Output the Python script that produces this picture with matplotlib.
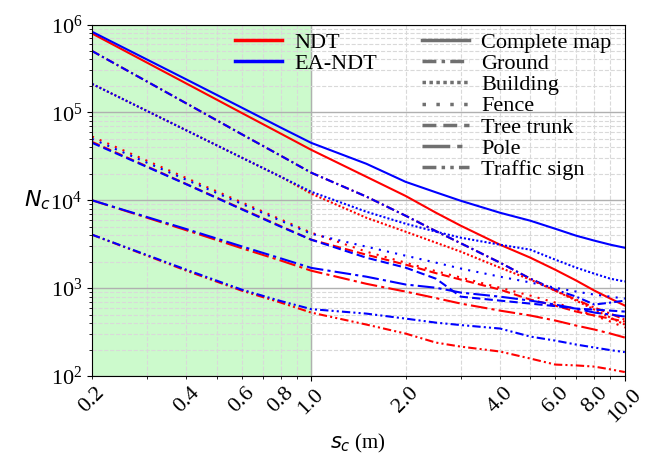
import matplotlib
matplotlib.use("Agg")
import matplotlib.pyplot as plt
import numpy as np
from matplotlib.lines import Line2D
from matplotlib.ticker import LogLocator, FuncFormatter

plt.rcParams['font.family'] = 'Liberation Serif'
plt.rcParams['mathtext.fontset'] = 'custom'
plt.rcParams['mathtext.rm'] = 'Liberation Serif'
plt.rcParams['mathtext.it'] = 'DejaVu Sans:italic'
plt.rcParams['mathtext.default'] = 'regular'

# cell size (m)
s = [0.2, 0.4, 0.6, 0.8, 1.0, 1.5, 2.0, 2.5, 3.0, 4.0, 5.0, 6.0, 7.0, 8.0, 9.0, 10.0]

# number of cells, NDT (red) / EA-NDT (blue)
complete_ndt = [7.91e5, 2.13e5, 9.87e4, 5.73e4, 3.75e4, 1.85e4, 1.12e4, 7.21e3, 5.13e3, 3.12e3, 2.22e3, 1.62e3, 1.22e3, 937, 760, 633]
complete_ea = [8.28e5, 2.37e5, 1.135e5, 6.71e4, 4.50e4, 2.60e4, 1.62e4, 1.23e4, 9.86e3, 7.21e3, 5.85e3, 4.74e3, 3.95e3, 3.47e3, 3.12e3, 2.88e3]
ground_ndt = [5.0e5, 1.265e5, 5.65e4, 3.21e4, 2.06e4, 1.10e4, 6.67e3, 4.45e3, 3.24e3, 1.95e3, 1.28e3, 937, 740, 600, 513, 438]
ground_ea = [5.0e5, 1.265e5, 5.65e4, 3.21e4, 2.06e4, 1.10e4, 6.67e3, 4.45e3, 3.24e3, 1.95e3, 1.28e3, 962, 800, 650, 685, 721]
building_ndt = [2.11e5, 6.24e4, 3.06e4, 1.85e4, 1.19e4, 6.32e3, 4.39e3, 3.29e3, 2.60e3, 1.71e3, 1.25e3, 937, 721, 570, 462, 385]
building_ea = [2.11e5, 6.24e4, 3.06e4, 1.85e4, 1.25e4, 7.40e3, 5.41e3, 4.39e3, 3.75e3, 3.12e3, 2.74e3, 2.11e3, 1.71e3, 1.46e3, 1.28e3, 1.19e3]
fence_ndt = [5.31e4, 1.79e4, 9.49e3, 6.05e3, 4.28e3, 2.60e3, 1.95e3, 1.56e3, 1.32e3, 1.01e3, 822, 685, 570, 488, 416, 356]
fence_ea = [5.0e4, 1.71e4, 9.12e3, 5.85e3, 4.16e3, 2.96e3, 2.34e3, 1.95e3, 1.67e3, 1.35e3, 1.16e3, 1.01e3, 913, 844, 800, 760]
tree_ndt = [4.62e4, 1.53e4, 8.0e3, 5.07e3, 3.56e3, 2.40e3, 1.85e3, 1.48e3, 1.25e3, 962, 740, 633, 541, 488, 450, 416]
tree_ea = [4.51e4, 1.52e4, 7.9e3, 5.0e3, 3.56e3, 2.22e3, 1.71e3, 1.28e3, 800, 721, 667, 624, 585, 570, 555, 541]
pole_ndt = [1.0e4, 4.56e3, 2.85e3, 2.06e3, 1.58e3, 1.12e3, 913, 770, 667, 555, 488, 428, 375, 338, 304, 274]
pole_ea = [1.0e4, 4.70e3, 2.99e3, 2.18e3, 1.70e3, 1.35e3, 1.10e3, 1.01e3, 890, 800, 721, 650, 585, 527, 500, 475]
traffic_ndt = [4.06e3, 1.58e3, 937, 685, 527, 385, 304, 240, 216, 190, 158, 135, 132, 128, 119, 111]
traffic_ea = [4.06e3, 1.62e3, 962, 713, 577, 513, 450, 405, 380, 347, 281, 253, 228, 211, 197, 187]

classes = ['Complete map', 'Ground', 'Building', 'Fence', 'Tree trunk', 'Pole', 'Traffic sign']
styles = ['-', (0, (4, 1.5, 1, 1.5)), (0, (1, 1)), (0, (1, 3)), (0, (4, 2)),
          (0, (8, 2, 1.5, 2)), (0, (4, 1.5, 1, 1.5, 1, 1.5))]
ndt = [complete_ndt, ground_ndt, building_ndt, fence_ndt, tree_ndt, pole_ndt, traffic_ndt]
ea = [complete_ea, ground_ea, building_ea, fence_ea, tree_ea, pole_ea, traffic_ea]

fig = plt.figure(figsize=(6.57, 4.58), dpi=100)
ax = fig.add_axes([0.140, 0.179, 0.811, 0.7675])

ax.axvspan(0.2, 1.0, color='#ccfacc', zorder=0)
ax.axvline(1.0, color='#b0b0b0', lw=1, zorder=0.5)

for i in range(len(classes)):
    ax.plot(s, ndt[i], color='red', ls=styles[i], lw=1.5)
    ax.plot(s, ea[i], color='blue', ls=styles[i], lw=1.5)

ax.set_xscale('log')
ax.set_yscale('log')
ax.set_xlim(0.2, 10)
ax.set_ylim(1e2, 1e6)

ax.xaxis.set_major_locator(LogLocator(base=10))
ax.xaxis.set_minor_locator(LogLocator(base=10, subs=np.arange(2, 10)))
shown = [0.2, 0.4, 0.6, 0.8, 1.0, 2.0, 4.0, 6.0, 8.0, 10.0]
fmt = FuncFormatter(lambda v, p: '%.1f' % v if np.any(np.isclose(v, shown)) else '')
ax.xaxis.set_major_formatter(fmt)
ax.xaxis.set_minor_formatter(fmt)
ax.tick_params(axis='x', which='both', labelrotation=45, labelsize=16)
ax.tick_params(axis='y', which='both', labelsize=16)

ax.grid(which='major', axis='y', color='#b0b0b0', ls='-', lw=1)
ax.grid(which='minor', color='#d9d9d9', ls='--', lw=0.8)
ax.set_axisbelow(True)

ax.set_xlabel(r'$\mathit{s_c}$ (m)', fontsize=15)
ax.set_ylabel(r'$\mathit{N_c}$', fontsize=16, rotation=0, ha='right', va='center', labelpad=-0.5)

h1 = [Line2D([], [], color='red', lw=2.5), Line2D([], [], color='blue', lw=2.5)]
leg1 = ax.legend(h1, ['NDT', 'EA-NDT'], loc='upper left', bbox_to_anchor=(0.231, 1.035),
                 frameon=False, fontsize=16, labelspacing=0.03, handlelength=2.1, handletextpad=0.55)
ax.add_artist(leg1)
h2 = [Line2D([], [], color='#707070', lw=2.5, ls=st) for st in styles]
ax.legend(h2, classes, loc='upper left', bbox_to_anchor=(0.582, 1.035),
          frameon=False, fontsize=16, labelspacing=0.03, handlelength=2.1, handletextpad=0.55)

fig.savefig('out.png', dpi=100)
